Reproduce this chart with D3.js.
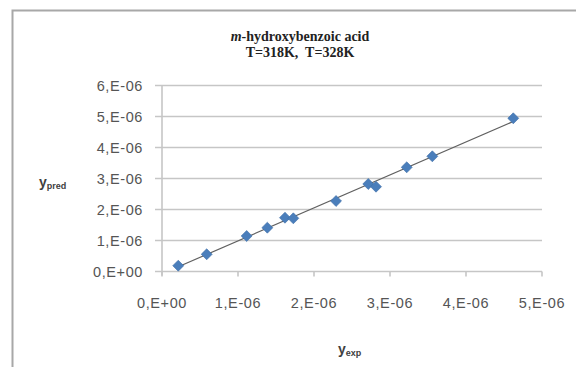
<!DOCTYPE html>
<html>
<head>
<meta charset="utf-8">
<script src="https://cdn.jsdelivr.net/npm/d3@7"></script>
<style>
  body { margin: 0; background: #fff; }
  svg { display: block; }
</style>
</head>
<body>
<div id="chart"></div>
<script>
// values (units: mole fraction)
const yExp = [0.214e-6, 0.588e-6, 1.114e-6, 1.386e-6, 1.618e-6, 1.728e-6, 2.29e-6, 2.714e-6, 2.816e-6, 3.22e-6, 3.557e-6, 4.622e-6];
const yPred = [0.187e-6, 0.555e-6, 1.145e-6, 1.413e-6, 1.735e-6, 1.716e-6, 2.274e-6, 2.823e-6, 2.735e-6, 3.361e-6, 3.716e-6, 4.942e-6];
const xTicks = [0, 1e-6, 2e-6, 3e-6, 4e-6, 5e-6];
const yTicks = [0, 1e-6, 2e-6, 3e-6, 4e-6, 5e-6, 6e-6];

const width = 576, height = 367;

const svg = d3.select("#chart")
  .append("svg")
  .attr("width", width)
  .attr("height", height);

// excel-ish "1,E-06" format
const fmt = d => {
  if (d === 0) return "0,E+00";
  const e = Math.floor(Math.log10(d) + 1e-9);
  const m = Math.round(d / Math.pow(10, e));
  const s = e < 0 ? "-" : "+";
  return `${m},E${s}${String(Math.abs(e)).padStart(2, "0")}`;
};

const tickFont = "14.5px 'Liberation Sans', Arial, sans-serif";

// chart frame
svg.append("path")
  .attr("d", `M12.5,${height} V10.5 H${width}`)
  .attr("fill", "none")
  .attr("stroke", "#a8a8a8")
  .attr("stroke-width", 2);

const x = d3.scaleLinear().domain([0, 5e-6]).range([162, 542]);
const y = d3.scaleLinear().domain([0, 6e-6]).range([271.5, 85.5]);

// gridlines + left tick stubs
svg.append("g")
  .selectAll("line")
  .data(yTicks)
  .enter().append("line")
  .attr("x1", 155)
  .attr("x2", x(5e-6))
  .attr("y1", d => y(d))
  .attr("y2", d => y(d))
  .attr("stroke", "#c6c6c6")
  .attr("stroke-width", 1.6);

// y axis line
svg.append("line")
  .attr("x1", x(0)).attr("x2", x(0))
  .attr("y1", y(6e-6)).attr("y2", y(0) + 4)
  .attr("stroke", "#c6c6c6")
  .attr("stroke-width", 1.6);

// x ticks
svg.append("g")
  .selectAll("line")
  .data(xTicks)
  .enter().append("line")
  .attr("x1", d => x(d)).attr("x2", d => x(d))
  .attr("y1", y(0)).attr("y2", y(0) + 5)
  .attr("stroke", "#c6c6c6")
  .attr("stroke-width", 1.6);

// tick labels
svg.append("g")
  .selectAll("text")
  .data(yTicks)
  .enter().append("text")
  .attr("x", 143)
  .attr("y", d => y(d))
  .attr("dy", "0.36em")
  .attr("text-anchor", "end")
  .style("font", tickFont)
  .style("letter-spacing", "0.6px")
  .style("fill", "#555")
  .text(fmt);

svg.append("g")
  .selectAll("text")
  .data(xTicks)
  .enter().append("text")
  .attr("x", d => x(d))
  .attr("y", 308)
  .attr("text-anchor", "middle")
  .style("font", tickFont)
  .style("letter-spacing", "0.6px")
  .style("fill", "#555")
  .text(fmt);

// trendline (least squares over the data range)
const mx = d3.mean(yExp), my = d3.mean(yPred);
const slope = d3.sum(yExp, (v, i) => (v - mx) * (yPred[i] - my)) / d3.sum(yExp, v => (v - mx) * (v - mx));
const icpt = my - slope * mx;
const [x0, x1] = d3.extent(yExp);

svg.append("line")
  .attr("x1", x(x0)).attr("y1", y(icpt + slope * x0))
  .attr("x2", x(x1)).attr("y2", y(icpt + slope * x1))
  .attr("stroke", "#606060")
  .attr("stroke-width", 1.2);

// markers
svg.append("g")
  .selectAll("path")
  .data(yExp)
  .enter().append("path")
  .attr("d", d3.symbol(d3.symbolSquare, 60))
  .attr("transform", (d, i) => `translate(${x(d)},${y(yPred[i])}) rotate(45)`)
  .attr("fill", "#4a7ebb")
  .attr("stroke", "#3f6fa8")
  .attr("stroke-width", 0.6);

// title
const title = svg.append("text")
  .attr("x", 300)
  .attr("y", 41)
  .attr("text-anchor", "middle")
  .style("font", "bold 14px 'Liberation Serif', 'Times New Roman', serif")
  .style("fill", "#222");
title.append("tspan").style("font-style", "italic").text("m");
title.append("tspan").text("-hydroxybenzoic acid");

svg.append("text")
  .attr("x", 300)
  .attr("y", 57)
  .attr("text-anchor", "middle")
  .style("font", "bold 14px 'Liberation Serif', 'Times New Roman', serif")
  .style("fill", "#222")
  .text("T=318K,\u00a0 T=328K");

// axis titles
const yTitle = svg.append("text")
  .attr("x", 39)
  .attr("y", 187)
  .style("font", "bold 14px 'Liberation Sans', Arial, sans-serif")
  .style("fill", "#404040");
yTitle.append("tspan").text("y");
yTitle.append("tspan").attr("dy", 2).style("font-size", "9px").text("pred");

const xTitle = svg.append("text")
  .attr("x", 338)
  .attr("y", 354)
  .style("font", "bold 14px 'Liberation Sans', Arial, sans-serif")
  .style("fill", "#404040");
xTitle.append("tspan").text("y");
xTitle.append("tspan").attr("dy", 2).style("font-size", "9px").text("exp");
</script>
</body>
</html>
